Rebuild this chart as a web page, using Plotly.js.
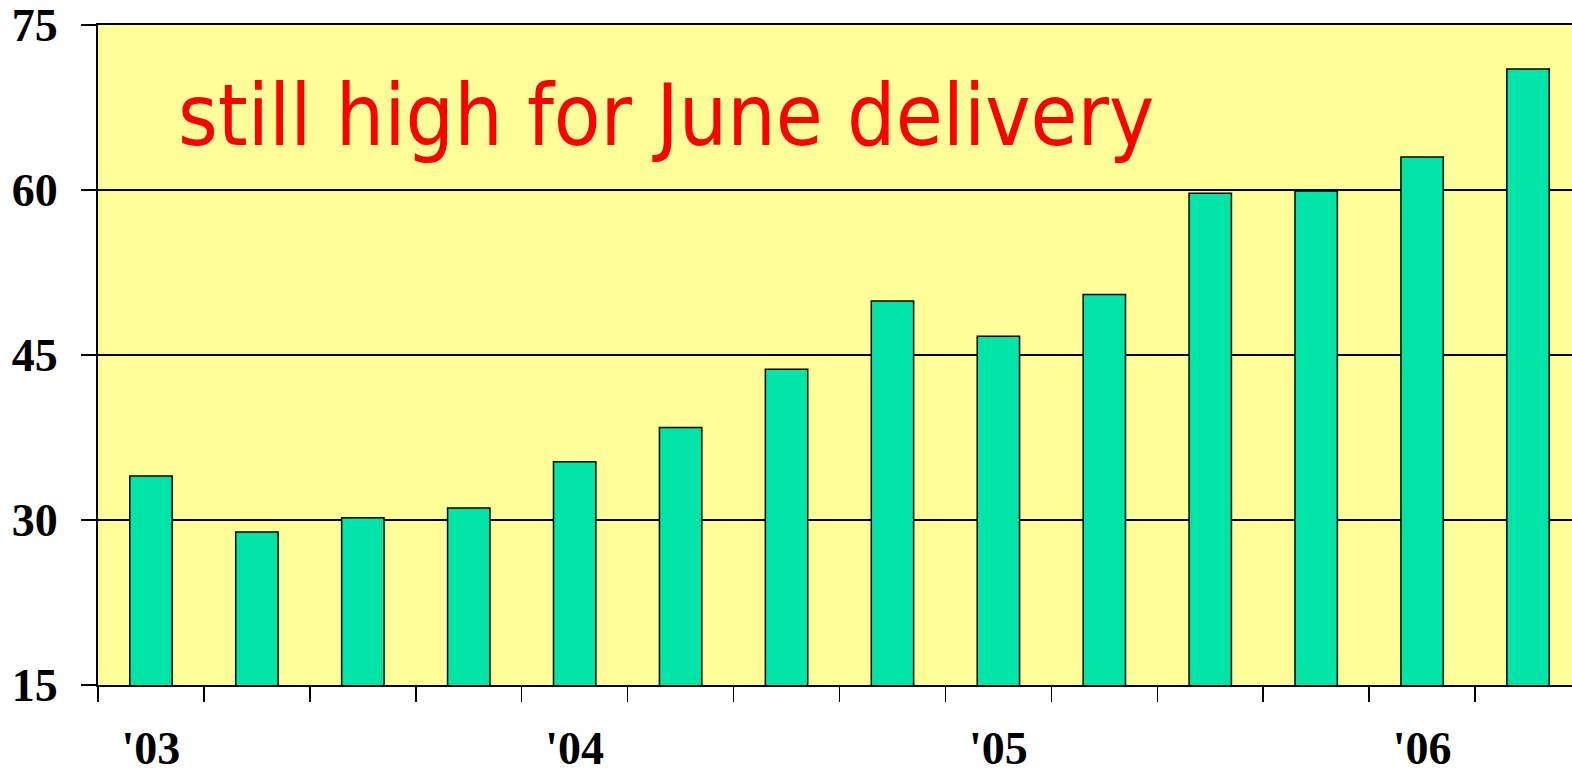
<!DOCTYPE html>
<html>
<head>
<meta charset="utf-8">
<script src="https://cdn.plot.ly/plotly-3.0.1.min.js"></script>
<style>
html,body{margin:0;padding:0;overflow:hidden;background:#fff;}
#chart{width:1600px;height:774px;}
</style>
</head>
<body>
<div id="chart"></div>
<script>
const categories = ["Q1-03","Q2-03","Q3-03","Q4-03","Q1-04","Q2-04","Q3-04","Q4-04","Q1-05","Q2-05","Q3-05","Q4-05","Q1-06","Q2-06"];
const values = [34.0, 28.9, 30.2, 31.1, 35.3, 38.4, 43.7, 49.9, 46.7, 50.5, 59.7, 59.9, 63.0, 71.0];
const tickLabels = ["'03","","","","'04","","","","'05","","","","'06",""];
const yTicks = [15, 30, 45, 60, 75];
const noteText = "still high for June delivery";

const serif = {family: "Liberation Serif, Times New Roman, serif", size: 46, color: "#000"};

const trace = {
  type: "bar",
  x: categories,
  y: values,
  marker: {color: "#00E4A8", line: {color: "#000", width: 1.5}},
  hoverinfo: "x+y"
};

const layout = {
  width: 1600,
  height: 774,
  margin: {l: 98, r: 19, t: 25, b: 89},
  paper_bgcolor: "#ffffff",
  plot_bgcolor: "#FFFF99",
  showlegend: false,
  bargap: 0.6,
  font: {family: "Liberation Serif, serif", color: "#000"},
  xaxis: {
    type: "category",
    tickvals: categories,
    ticktext: tickLabels,
    tickson: "boundaries",
    ticks: "outside",
    ticklen: 15,
    tickwidth: 1.5,
    tickcolor: "#000",
    showline: true,
    linecolor: "#000",
    linewidth: 2,
    mirror: true,
    showgrid: false,
    zeroline: false,
    tickfont: Object.assign({}, serif, {weight: "bold"}),
    ticklabelstandoff: 22
  },
  yaxis: {
    range: [15, 75],
    tickvals: yTicks,
    ticks: "outside",
    ticklen: 15,
    tickwidth: 1.5,
    tickcolor: "#000",
    showline: true,
    linecolor: "#000",
    linewidth: 2,
    showgrid: true,
    gridcolor: "#000",
    gridwidth: 1.5,
    zeroline: false,
    tickfont: Object.assign({}, serif, {weight: "bold"}),
    ticklabelstandoff: 14
  },
  annotations: [{
    xref: "paper", yref: "paper",
    x: (176 - 98) / (1581 - 98), y: 1 - (64 - 25) / 660,
    xanchor: "left", yanchor: "top",
    text: noteText,
    showarrow: false,
    font: {family: "DejaVu Sans Condensed, DejaVu Sans, sans-serif", size: 85, color: "#FF0000"}
  }]
};

Plotly.newPlot("chart", [trace], layout, {displayModeBar: false, staticPlot: true});
</script>
</body>
</html>
